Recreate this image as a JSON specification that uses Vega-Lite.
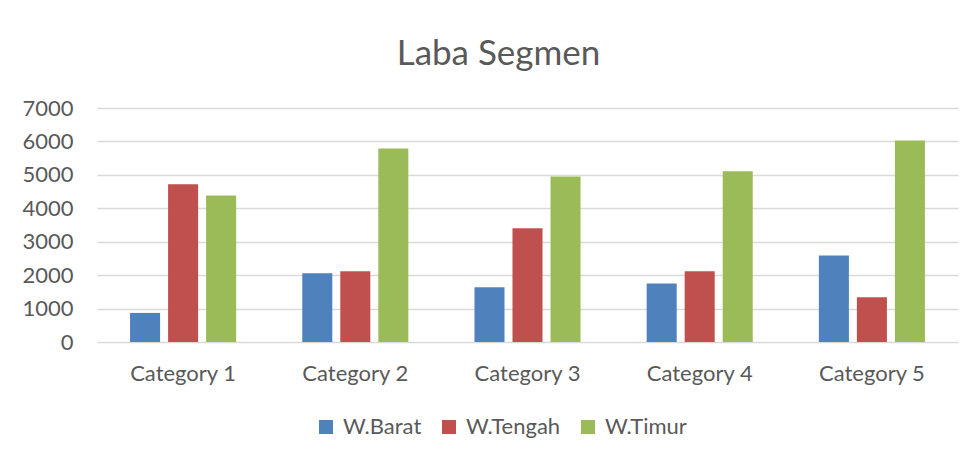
{
  "$schema": "https://vega.github.io/schema/vega-lite/v6.json",
  "width": 861,
  "height": 234,
  "autosize": {"type": "none"},
  "padding": {"left": 97, "top": 108, "right": 19, "bottom": 117},
  "background": "white",
  "title": {
    "text": "Laba Segmen",
    "font": "Lato",
    "fontSize": 35,
    "fontWeight": "normal",
    "color": "#595959",
    "anchor": "middle",
    "offset": 25,
    "dx": -29
  },
  "data": {
    "values": [
      {"category": "Category 1", "series": "W.Barat", "value": 870},
      {"category": "Category 1", "series": "W.Tengah", "value": 4720},
      {"category": "Category 1", "series": "W.Timur", "value": 4380},
      {"category": "Category 2", "series": "W.Barat", "value": 2060},
      {"category": "Category 2", "series": "W.Tengah", "value": 2120},
      {"category": "Category 2", "series": "W.Timur", "value": 5790},
      {"category": "Category 3", "series": "W.Barat", "value": 1640},
      {"category": "Category 3", "series": "W.Tengah", "value": 3400},
      {"category": "Category 3", "series": "W.Timur", "value": 4950},
      {"category": "Category 4", "series": "W.Barat", "value": 1750},
      {"category": "Category 4", "series": "W.Tengah", "value": 2115},
      {"category": "Category 4", "series": "W.Timur", "value": 5110},
      {"category": "Category 5", "series": "W.Barat", "value": 2590},
      {"category": "Category 5", "series": "W.Tengah", "value": 1340},
      {"category": "Category 5", "series": "W.Timur", "value": 6030}
    ]
  },
  "mark": {"type": "bar"},
  "encoding": {
    "x": {
      "field": "category",
      "type": "nominal",
      "scale": {"paddingInner": 0.384, "paddingOuter": 0.192},
      "axis": {
        "title": null,
        "labelAngle": 0,
        "domain": false,
        "ticks": false,
        "labelPadding": 21,
        "labelFont": "Lato",
        "labelFontSize": 22,
        "labelColor": "#595959"
      }
    },
    "xOffset": {
      "field": "series",
      "type": "nominal",
      "scale": {"paddingInner": 0.21, "paddingOuter": 0}
    },
    "y": {
      "field": "value",
      "type": "quantitative",
      "scale": {"domain": [0, 7000], "nice": false},
      "axis": {
        "title": null,
        "values": [0, 1000, 2000, 3000, 4000, 5000, 6000, 7000],
        "format": "d",
        "domain": false,
        "ticks": false,
        "labelPadding": 24,
        "labelFont": "Lato",
        "labelFontSize": 22,
        "labelColor": "#595959",
        "gridColor": "#D9D9D9",
        "gridWidth": 1.4
      }
    },
    "color": {
      "field": "series",
      "type": "nominal",
      "scale": {
        "domain": ["W.Barat", "W.Tengah", "W.Timur"],
        "range": ["#4F81BD", "#C0504D", "#9BBB59"]
      },
      "legend": {
        "title": null,
        "orient": "none",
        "direction": "horizontal",
        "legendX": 218,
        "legendY": 308,
        "symbolType": "square",
        "symbolSize": 196,
        "symbolStrokeWidth": 0,
        "labelFont": "Lato",
        "labelFontSize": 22,
        "labelColor": "#595959",
        "labelOffset": 6,
        "columnPadding": 16
      }
    }
  },
  "config": {
    "view": {"stroke": null}
  }
}
